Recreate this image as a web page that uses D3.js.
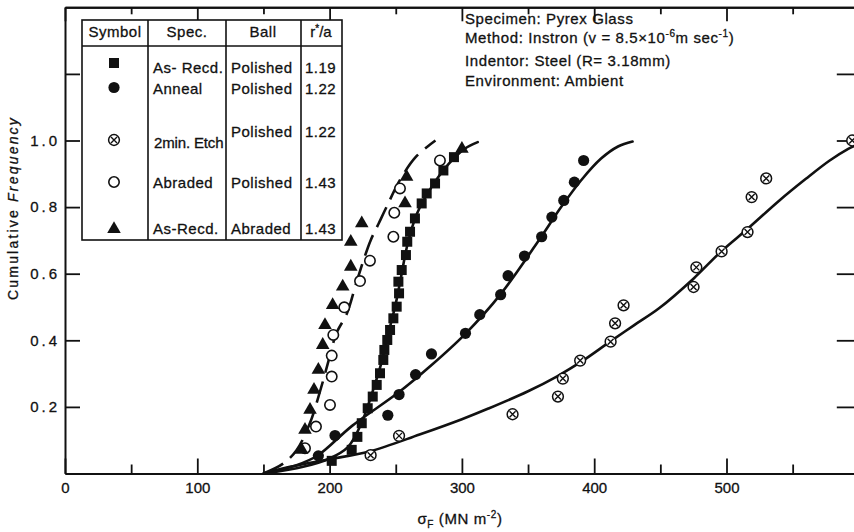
<!DOCTYPE html>
<html>
<head>
<meta charset="utf-8">
<script src="https://cdn.jsdelivr.net/npm/d3@7"></script>
<style>
  html, body { margin: 0; padding: 0; background: #fff; }
  svg { display: block; font-family: "Liberation Sans", Arial, sans-serif; }
</style>
</head>
<body>
<svg id="chart" width="854" height="532"></svg>
<script>
// ---- axis ticks ----
const xMajorTicks = [0, 100, 200, 300, 400, 500];
const xMinorTicks = [50, 150, 250, 350, 450, 550];
const yLabelTicks = [0.2, 0.4, 0.6, 0.8, 1.0];
const yAllTicks = [0.2, 0.4, 0.6, 0.8, 1.0, 1.2];

// ---- measured points: [fracture stress (MN m^-2), cumulative frequency] ----
const asRecdPolished = [
  [201.6, 0.038], [216.7, 0.071], [221, 0.11], [224.3, 0.151], [228.8, 0.196],
  [232.6, 0.231], [235.6, 0.266], [238.1, 0.301], [240.6, 0.341], [241.4, 0.371],
  [243.6, 0.401], [245.7, 0.431], [248.2, 0.466], [250.7, 0.501], [252.5, 0.541],
  [252, 0.576], [254.5, 0.611], [257.7, 0.656], [258.7, 0.696], [260.8, 0.726],
  [264.5, 0.766], [269.6, 0.811], [273.4, 0.841], [279.7, 0.871], [286, 0.91], [294, 0.95]
];
const annealPolished = [
  [191.5, 0.053], [204.1, 0.114], [244, 0.175], [252.5, 0.237], [265, 0.297],
  [277, 0.359], [302.7, 0.421], [313.5, 0.477], [329.3, 0.537], [334.9, 0.594],
  [347.3, 0.653], [360.3, 0.711], [368, 0.77], [377, 0.82], [385, 0.875], [392, 0.94]
];
const etchPolished = [
  [231, 0.055], [252.5, 0.113], [338.3, 0.178], [372.6, 0.231], [376.3, 0.285],
  [389.4, 0.339], [412.4, 0.396], [415.8, 0.451], [422.2, 0.505], [475.1, 0.56],
  [477.2, 0.619], [496.3, 0.667], [515.9, 0.725], [519, 0.83], [530, 0.886], [595, 1.0]
];
const abradedPolished = [
  [181.4, 0.076], [189.7, 0.141], [200.3, 0.206], [201.6, 0.291], [201.6, 0.354],
  [202.8, 0.416], [211.1, 0.499], [223, 0.578], [230.5, 0.639], [248.2, 0.711],
  [248.9, 0.783], [253.2, 0.856], [283.4, 0.94]
];
const asRecdAbraded = [
  [178.9, 0.071], [181.4, 0.131], [185.2, 0.191], [188.2, 0.251], [191.5, 0.311],
  [194.8, 0.386], [196.5, 0.446], [202.3, 0.506], [209.9, 0.561], [216, 0.621],
  [216, 0.696], [224.3, 0.751], [257, 0.811], [258.2, 0.891], [300, 0.975]
];

// ---- fitted distribution curves ----
const asRecdCurve = [
  [152, 0], [180, 0.02], [200, 0.045], [214, 0.08], [224, 0.15], [232, 0.24],
  [239, 0.33], [245, 0.43], [250, 0.51], [254, 0.59], [259, 0.69], [266, 0.78],
  [277, 0.86], [290, 0.93], [302, 0.975], [312, 0.995]
];
const annealCurve = [
  [150, 0], [175, 0.025], [191, 0.054], [217, 0.143], [252, 0.243], [276, 0.322],
  [303, 0.421], [329, 0.537], [360, 0.711], [375, 0.8], [390, 0.88], [405, 0.945],
  [418, 0.982], [429, 0.997]
];
const etchCurve = [
  [150, 0], [170, 0.02], [200, 0.043], [230, 0.066], [268, 0.117], [300, 0.163],
  [320, 0.195], [350, 0.247], [372, 0.292], [390, 0.335], [412, 0.396], [430, 0.445],
  [449, 0.496], [475, 0.585], [496, 0.667], [516, 0.735], [540, 0.82], [560, 0.885],
  [578, 0.94], [592, 0.975], [600, 0.99]
];
const abradedCurve = [
  [150, 0], [165, 0.03], [175, 0.07], [185, 0.15], [193, 0.25], [200, 0.35],
  [205, 0.42], [213, 0.48], [220, 0.57], [226, 0.645], [231, 0.7], [237, 0.75],
  [243, 0.8], [253, 0.88], [265, 0.95], [280, 1.0]
];

// ---- legend table rows ----
const legendRows = [
  { sym: "square",   spec: "As- Recd.",  ball: "Polished", ratio: "1.19", cy: 63,  specY: 73,  ballY: 73 },
  { sym: "dot",      spec: "Anneal",     ball: "Polished", ratio: "1.22", cy: 87.5, specY: 94, ballY: 94 },
  { sym: "cross",    spec: "2min. Etch", ball: "Polished", ratio: "1.22", cy: 140, specY: 148, ballY: 136.5, narrow: true },
  { sym: "ring",     spec: "Abraded",    ball: "Polished", ratio: "1.43", cy: 182, specY: 188, ballY: 188 },
  { sym: "triangle", spec: "As-Recd.",   ball: "Abraded",  ratio: "1.43", cy: 229, specY: 234, ballY: 234 }
];

const svg = d3.select("#chart");
const plotLeft = 65, plotBottom = 473.5, plotTop = 7.3;

const x = d3.scaleLinear().domain([0, 600]).range([plotLeft, plotLeft + 1.323 * 600]);
const y = d3.scaleLinear().domain([0, 1.4]).range([plotBottom, plotTop]);

const ink = "#111";

// lettering: regular face with a faint outline so strokes read a little heavier
function letter(sel, size) {
  return sel.attr("font-size", size).attr("fill", ink)
    .attr("stroke", ink).attr("stroke-width", 0.3);
}

// ---- frame and axes ----
function styleAxis(g) {
  g.selectAll("path.domain").attr("stroke", ink).attr("stroke-width", 2);
  g.selectAll(".tick line").attr("stroke", ink).attr("stroke-width", 1.8);
  letter(g.selectAll(".tick text"), 15);
}

svg.append("g").attr("transform", `translate(0,${plotBottom})`)
  .call(d3.axisBottom(x).tickValues(xMajorTicks).tickSize(-15).tickSizeOuter(0).tickPadding(9).tickFormat(d3.format("d")))
  .call(styleAxis);
svg.append("g").attr("transform", `translate(0,${plotBottom})`)
  .call(d3.axisBottom(x).tickValues(xMinorTicks).tickSize(-9).tickSizeOuter(0).tickFormat(""))
  .call(styleAxis);

svg.append("g").attr("transform", `translate(0,${plotTop})`)
  .call(d3.axisTop(x).tickValues(xMajorTicks).tickSize(-14).tickSizeOuter(0).tickFormat(""))
  .call(styleAxis);
svg.append("g").attr("transform", `translate(0,${plotTop})`)
  .call(d3.axisTop(x).tickValues(xMinorTicks).tickSize(-7).tickSizeOuter(0).tickFormat(""))
  .call(styleAxis);

const yAxis = svg.append("g").attr("transform", `translate(${plotLeft},0)`)
  .call(d3.axisLeft(y).tickValues(yAllTicks).tickSize(-15).tickSizeOuter(0).tickPadding(5)
    .tickFormat(d => yLabelTicks.includes(d) ? d3.format(".1f")(d) : ""))
  .call(styleAxis);
yAxis.selectAll(".tick text").attr("letter-spacing", 3);

svg.append("g").attr("transform", `translate(${x(600)},0)`)
  .call(d3.axisRight(y).tickValues(yAllTicks).tickSize(-22).tickSizeOuter(0).tickFormat(""))
  .call(styleAxis);

// axis titles
const yTitle = letter(svg.append("text"), 14)
  .attr("transform", `translate(18,208) rotate(-90)`)
  .attr("text-anchor", "middle")
  .attr("letter-spacing", 2.2);
yTitle.append("tspan").text("Cumulative ");
yTitle.append("tspan").attr("font-style", "italic").text("Frequency");

const xTitle = letter(svg.append("text"), 15)
  .attr("x", 460).attr("y", 524)
  .attr("text-anchor", "middle")
  .attr("letter-spacing", 0.6);
xTitle.append("tspan").text("σ");
xTitle.append("tspan").attr("font-size", 10).attr("dy", 4).text("F");
xTitle.append("tspan").attr("dy", -4).text(" (MN  m");
xTitle.append("tspan").attr("font-size", 10).attr("dy", -6).text("-2");
xTitle.append("tspan").attr("dy", 6).text(")");

// ---- curves ----
const line = d3.line()
  .x(d => x(d[0])).y(d => y(d[1]))
  .curve(d3.curveCatmullRom.alpha(0.5));

const curves = svg.append("g").attr("fill", "none").attr("stroke", ink).attr("stroke-width", 2.6)
  .attr("stroke-linecap", "round");
curves.append("path").attr("d", line(etchCurve));
curves.append("path").attr("d", line(annealCurve));
curves.append("path").attr("d", line(asRecdCurve));
curves.append("path").attr("d", line(abradedCurve)).attr("stroke-dasharray", "22,9").attr("stroke-linecap", "butt");

// ---- markers ----
function drawMarker(g, type, cx, cy) {
  if (type === "square") {
    g.append("rect").attr("x", cx - 5).attr("y", cy - 5).attr("width", 10).attr("height", 10).attr("fill", ink);
  } else if (type === "dot") {
    g.append("circle").attr("cx", cx).attr("cy", cy).attr("r", 5.6).attr("fill", ink);
  } else if (type === "ring") {
    g.append("circle").attr("cx", cx).attr("cy", cy).attr("r", 5.2).attr("fill", "#fff")
      .attr("stroke", ink).attr("stroke-width", 1.6);
  } else if (type === "triangle") {
    g.append("path").attr("transform", `translate(${cx},${cy})`)
      .attr("d", d3.symbol().type(d3.symbolTriangle).size(80)()).attr("fill", ink);
  } else if (type === "cross") {
    const c = g.append("g").attr("transform", `translate(${cx},${cy})`);
    c.append("circle").attr("r", 5.4).attr("fill", "#fff").attr("stroke", ink).attr("stroke-width", 1.5);
    c.append("path").attr("d", "M-3,-3L3,3M-3,3L3,-3").attr("stroke", ink).attr("stroke-width", 1.4);
  }
}

const marks = svg.append("g");
[
  ["square", asRecdPolished],
  ["dot", annealPolished],
  ["cross", etchPolished],
  ["ring", abradedPolished],
  ["triangle", asRecdAbraded]
].forEach(([type, pts]) => pts.forEach(p => drawMarker(marks, type, x(p[0]), y(p[1]))));

// ---- legend table ----
const lg = svg.append("g");
lg.append("rect").attr("x", 82).attr("y", 20).attr("width", 260).attr("height", 220)
  .attr("fill", "#fff").attr("stroke", ink).attr("stroke-width", 1.6);
[148, 226, 301].forEach(cx =>
  lg.append("line").attr("x1", cx).attr("x2", cx).attr("y1", 20).attr("y2", 240)
    .attr("stroke", ink).attr("stroke-width", 1.6));
lg.append("line").attr("x1", 82).attr("x2", 342).attr("y1", 46).attr("y2", 46)
  .attr("stroke", ink).attr("stroke-width", 1.6);

const headerY = 37;
[["Symbol", 115], ["Spec.", 187], ["Ball", 263]].forEach(([t, cx]) =>
  letter(lg.append("text"), 15).attr("x", cx).attr("y", headerY).attr("text-anchor", "middle")
    .attr("letter-spacing", 0.5).text(t));
const rh = letter(lg.append("text"), 15).attr("x", 321).attr("y", headerY).attr("text-anchor", "middle");
rh.append("tspan").text("r");
rh.append("tspan").attr("font-size", 10).attr("dy", -5).text("*");
rh.append("tspan").attr("dy", 5).text("/a");

legendRows.forEach(r => {
  drawMarker(lg, r.sym, 114, r.cy);
  letter(lg.append("text"), 15).attr("x", r.narrow ? 154 : 153).attr("y", r.specY)
    .attr("letter-spacing", r.narrow ? -0.15 : 0.5).text(r.spec);
  letter(lg.append("text"), 15).attr("x", 231).attr("y", r.ballY).attr("letter-spacing", 0.5).text(r.ball);
  letter(lg.append("text"), 15).attr("x", 305).attr("y", r.ballY).attr("letter-spacing", 0.5).text(r.ratio);
});

// ---- test conditions ----
const notes = letter(svg.append("g"), 15).attr("letter-spacing", 0.6);
notes.append("text").attr("x", 465).attr("y", 24).text("Specimen: Pyrex Glass");
const m = notes.append("text").attr("x", 465).attr("y", 43);
m.append("tspan").text("Method:  Instron (v = 8.5×10");
m.append("tspan").attr("font-size", 10).attr("dy", -6).text("-6");
m.append("tspan").attr("dy", 6).text("m sec");
m.append("tspan").attr("font-size", 10).attr("dy", -6).text("-1");
m.append("tspan").attr("dy", 6).text(")");
notes.append("text").attr("x", 465).attr("y", 66).text("Indentor: Steel (R= 3.18mm)");
notes.append("text").attr("x", 465).attr("y", 86).text("Environment:  Ambient");
</script>
</body>
</html>
